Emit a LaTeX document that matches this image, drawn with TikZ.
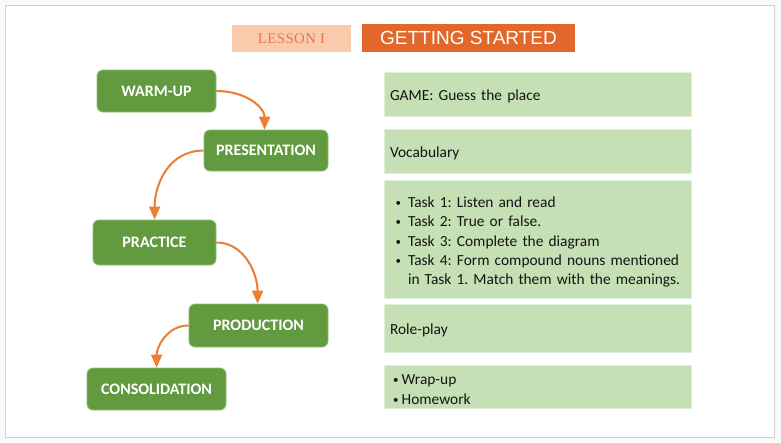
\documentclass[tikz,border=0pt]{standalone}
\usepackage{fontspec}
\setmainfont{Carlito}
\newfontfamily\titlefont{Liberation Sans}
\newfontfamily\lessonfont[LetterSpace=3]{Liberation Serif}
\usetikzlibrary{arrows.meta,calc}
\frenchspacing
\definecolor{outerbg}{HTML}{F8F9FB}
\definecolor{framegray}{HTML}{D0D0D0}
\definecolor{stepgreen}{HTML}{619A3F}
\definecolor{stepborder}{HTML}{8DBF70}
\definecolor{lightgreen}{HTML}{C5E0B4}
\definecolor{lightborder}{HTML}{E2F0D9}
\definecolor{arroworange}{HTML}{ED7D31}
\definecolor{titleorange}{HTML}{E2672A}
\definecolor{peach}{HTML}{F8CBAD}
\definecolor{lessontext}{HTML}{EE7350}
\newcommand\smallbul{\raisebox{0.8pt}{\fontsize{11}{11}\selectfont\textbullet}}
\newcommand\taskbul{\makebox[18pt][l]{\hspace{5.5pt}\smallbul}}
\newcommand\wrapbul{\makebox[11.7pt][l]{\hspace{3pt}\smallbul}}
\newcommand\topstrut[1]{\rule{0pt}{#1}}
\begin{document}
\begin{tikzpicture}[x=1pt,y=-1pt,
  stagebox/.style={rectangle,rounded corners=6pt,fill=stepgreen,draw=stepborder,line width=0.8pt,
    text=white,font=\fontsize{16}{18}\selectfont\bfseries,inner sep=0pt},
  infobox/.style={rectangle,fill=lightgreen,draw=lightborder,line width=0.8pt,
    text width=295pt,inner xsep=6pt,inner ysep=0pt,align=left,minimum width=307pt,
    font=\fontsize{15.4}{19.4}\selectfont,text=black!92},
  flowarrow/.style={draw=arroworange,line width=2pt,-{Triangle[length=13pt,width=11pt]}}]
\useasboundingbox (0,0) rectangle (781,442);
\fill[outerbg] (0,0) rectangle (781,442);
\draw[framegray,fill=white,line width=1pt] (5,5) rectangle (774,437);

% title
\node[fill=peach,minimum width=119pt,minimum height=27pt,inner sep=0pt,text=lessontext,
  font=\lessonfont\fontsize{14.8}{16}\selectfont] (lesson) at (291.5,38.5) {LESSON I};
\node[fill=titleorange,minimum width=213pt,minimum height=28pt,inner sep=0pt,text=white,
  font=\titlefont\fontsize{19}{21}\selectfont] (title) at (468.5,38) {GETTING STARTED};

% stages
\node[stagebox,minimum width=119pt,minimum height=42pt] (warm) at (156.5,91) {WARM-UP};
\node[stagebox,minimum width=124pt,minimum height=41pt] (pres) at (266,150.5) {PRESENTATION};
\node[stagebox,minimum width=123pt,minimum height=45pt] (prac) at (154.5,242.5) {PRACTICE};
\node[stagebox,minimum width=139pt,minimum height=43pt] (prod) at (258.5,325.5) {PRODUCTION};
\node[stagebox,minimum width=139pt,minimum height=42pt] (cons) at (156.5,389) {CONSOLIDATION};

% arrows
\coordinate (presin) at ($(pres.north west)+(61,0)$);
\coordinate (pracin) at ($(prac.north west)+(62,0)$);
\coordinate (prodin) at ($(prod.north west)+(69,0)$);
\coordinate (consin) at ($(cons.north west)+(70,0)$);
\draw[flowarrow] (warm.east) .. controls +(30,0) and +(0,-22) .. (presin);
\draw[flowarrow] (pres.west) .. controls +(-35,0) and +(0,-35) .. (pracin);
\draw[flowarrow] (prac.east) .. controls +(28,0) and +(0,-30) .. (prodin);
\draw[flowarrow] (prod.west) .. controls +(-22,0) and +(0,-20) .. (consin);

% info boxes
\node[infobox,minimum height=44pt] (game) at (537.5,94) {\topstrut{16pt}GAME: Guess the place};
\node[infobox,minimum height=44pt] (vocab) at (537.5,151) {\topstrut{16pt}Vocabulary};
\node[infobox,minimum height=118pt] (tasks) at (537.5,239) {%
\taskbul\topstrut{17pt}Task 1: Listen and read\\
\taskbul Task 2: True or false.\\
\taskbul Task 3: Complete the diagram\\
\taskbul Task 4: Form compound nouns mentioned\\
\hspace*{18pt}in Task 1. Match them with the meanings.};
\node[infobox,minimum height=48pt] (role) at (537.5,328) {\topstrut{16pt}Role-play};
\node[infobox,minimum height=43pt] (wrap) at (537.5,386.5) {%
\wrapbul\topstrut{16pt}Wrap-up\\
\wrapbul Homework};
\end{tikzpicture}
\end{document}
